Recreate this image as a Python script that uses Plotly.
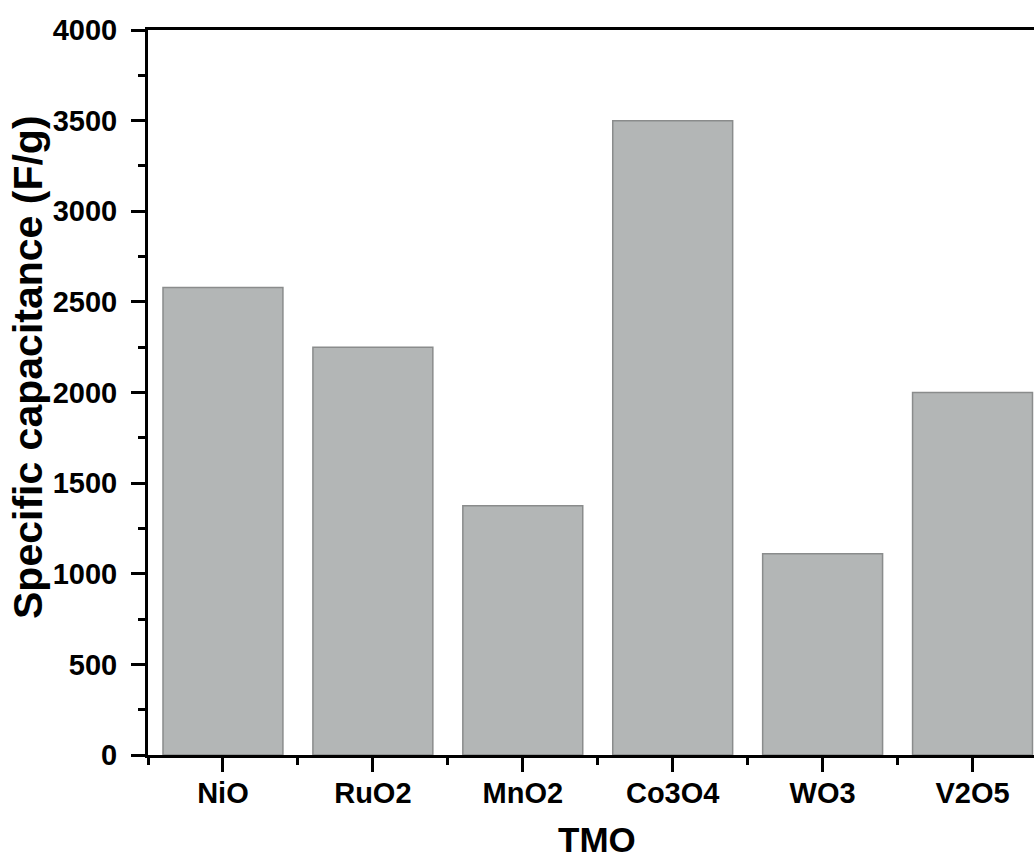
import plotly.graph_objects as go

categories = ["NiO", "RuO2", "MnO2", "Co3O4", "WO3", "V2O5"]
capacitance = [2580, 2250, 1375, 3500, 1110, 2000]
y_ticks = [0, 500, 1000, 1500, 2000, 2500, 3000, 3500, 4000]

x_pos = list(range(len(categories)))
minor_x = [i - 0.5 for i in range(len(categories) + 1)]

FONT = "Liberation Sans, Arial, sans-serif"

fig = go.Figure()
fig.add_trace(go.Bar(
    x=x_pos,
    y=capacitance,
    width=0.8,
    marker=dict(color="#b3b6b6", line=dict(color="#8a8c8c", width=1.5)),
    showlegend=False,
))

fig.update_layout(
    width=1034,
    height=862,
    margin=dict(l=148, r=0, t=30, b=107, autoexpand=False),
    plot_bgcolor="white",
    paper_bgcolor="white",
    bargap=0.2,
    font=dict(family=FONT, color="black"),
    annotations=[
        dict(
            text="<b>Specific capacitance (F/g)</b>",
            xref="paper", yref="paper",
            x=-120 / 886, y=(755 - 367) / 725,
            xanchor="center", yanchor="middle",
            textangle=-90, showarrow=False,
            font=dict(family=FONT, size=41, color="black"),
        ),
        dict(
            text="<b>TMO</b>",
            xref="paper", yref="paper",
            x=(597 - 148) / 886, y=-(839 - 755) / 725,
            xanchor="center", yanchor="middle",
            showarrow=False,
            font=dict(family=FONT, size=35, color="black"),
        ),
    ],
)

fig.update_xaxes(
    automargin=False,
    range=[-0.5, 5.41],
    tickmode="array",
    tickvals=x_pos,
    ticktext=["<b>%s</b>" % c for c in categories],
    tickfont=dict(family=FONT, size=29, color="black"),
    ticks="outside", ticklen=14, tickwidth=3, tickcolor="black",
    ticklabelstandoff=-4,
    minor=dict(tickmode="array", tickvals=minor_x, ticks="outside",
               ticklen=7, tickwidth=3, tickcolor="black"),
    showline=True, linewidth=3, linecolor="black", mirror=True,
    showgrid=False, zeroline=False,
)

fig.update_yaxes(
    automargin=False,
    range=[0, 4000],
    tickmode="array",
    tickvals=y_ticks,
    ticktext=["<b>%d</b>" % v for v in y_ticks],
    tickfont=dict(family=FONT, size=29, color="black"),
    ticks="outside", ticklen=14, tickwidth=3, tickcolor="black",
    ticklabelstandoff=8,
    minor=dict(dtick=250, tick0=0, ticks="outside", ticklen=7, tickwidth=3, tickcolor="black"),
    showline=True, linewidth=3, linecolor="black",
    showgrid=False, zeroline=False,
)

fig.write_html(
    "out.html",
    config={"displayModeBar": False},
    post_script="document.body.style.margin='0';document.body.style.overflow='hidden';",
)
